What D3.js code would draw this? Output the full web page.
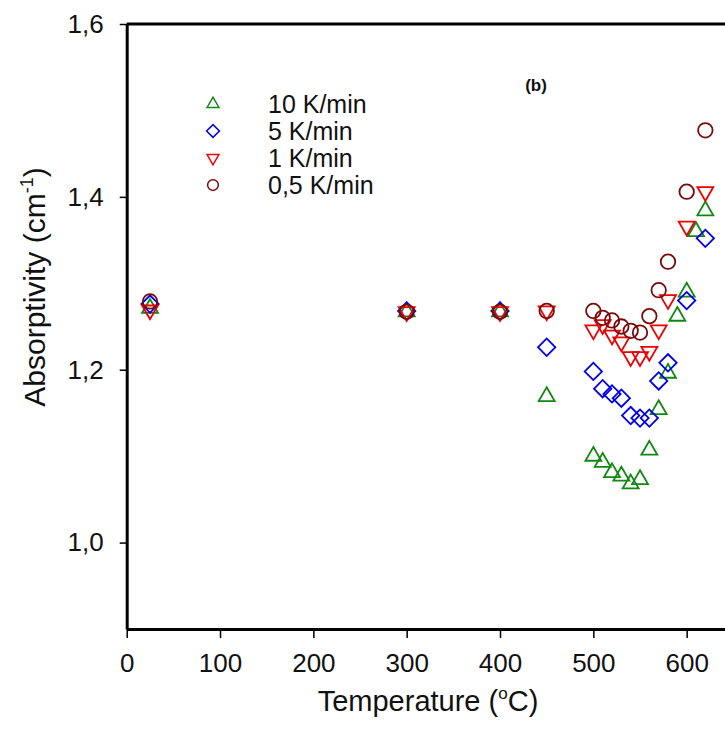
<!DOCTYPE html>
<html><head><meta charset="utf-8">
<script src="https://cdn.jsdelivr.net/npm/d3@7"></script>
<style>body{margin:0;background:#fff;} svg{display:block;} text{font-family:"Liberation Sans",Arial,sans-serif;}</style>
</head><body>
<svg id="chart" width="725" height="740"></svg>
<script>
const seriesNames = ["10 K/min", "5 K/min", "1 K/min", "0,5 K/min"];
const temps10 = [25,300,400,450,500,510,520,530,540,550,560,570,580,590,600,610,620];
const vals10  = [1.271,1.267,1.267,1.169,1.100,1.093,1.081,1.077,1.068,1.073,1.107,1.154,1.196,1.262,1.290,1.360,1.384];
const temps5  = [25,300,400,450,500,510,520,530,540,550,560,570,580,600,620];
const vals5   = [1.276,1.268,1.268,1.226,1.198,1.178,1.172,1.167,1.147,1.144,1.144,1.187,1.208,1.280,1.352];
const temps1  = [25,300,400,450,500,510,520,530,540,550,560,570,580,600,620];
const vals1   = [1.269,1.267,1.267,1.268,1.246,1.252,1.240,1.232,1.215,1.215,1.221,1.246,1.281,1.366,1.406];
const temps05 = [25,300,400,450,500,510,520,530,540,550,560,570,580,600,620];
const vals05  = [1.279,1.267,1.267,1.268,1.268,1.260,1.257,1.250,1.245,1.243,1.262,1.292,1.325,1.406,1.477];
const xTicks = [0,100,200,300,400,500,600];
const yTicks = [1.0,1.2,1.4,1.6];

const series = [
  {name: seriesNames[0], t: temps10, v: vals10, color: "#118811", shape: "up"},
  {name: seriesNames[1], t: temps5,  v: vals5,  color: "#0000ee", shape: "diamond"},
  {name: seriesNames[2], t: temps1,  v: vals1,  color: "#ee0000", shape: "down"},
  {name: seriesNames[3], t: temps05, v: vals05, color: "#7a0a0a", shape: "circle"}
];

const svg = d3.select("#chart");
const x = d3.scaleLinear().domain([0,700]).range([126.7, 126.7 + 700*0.9333]);
const y = d3.scaleLinear().domain([0.9,1.6]).range([629,24]);

const loc = d3.formatLocale({decimal:",", thousands:".", grouping:[3], currency:["",""]});
const fmt = loc.format(".1f");

const xAxis = svg.append("g").attr("transform","translate(0,629)")
  .call(d3.axisBottom(x).tickValues(xTicks).tickSize(9).tickPadding(16).tickSizeOuter(0));
const yAxis = svg.append("g").attr("transform","translate(126.7,0)")
  .call(d3.axisLeft(y).tickValues(yTicks).tickFormat(fmt).tickSize(7).tickPadding(16).tickSizeOuter(0));
[xAxis, yAxis].forEach(g => {
  g.select(".domain").attr("stroke","#000").attr("stroke-width",3);
  g.selectAll(".tick line").attr("stroke","#000").attr("stroke-width",1.5);
  g.selectAll(".tick text").attr("font-size",26).attr("fill","#111");
});
svg.append("line").attr("x1",x(0)).attr("x2",x(700)).attr("y1",y(1.6)).attr("y2",y(1.6))
  .attr("stroke","#000").attr("stroke-width",3);

const xt = svg.append("text").attr("x",428).attr("y",711).attr("text-anchor","middle").attr("font-size",29).attr("fill","#111");
xt.append("tspan").text("Temperature (");
xt.append("tspan").text("o").attr("font-size",17).attr("dy",-12);
xt.append("tspan").text("C)").attr("dy",12);

const yt = svg.append("text").attr("transform","translate(45,287) rotate(-90)").attr("text-anchor","middle").attr("font-size",30).attr("fill","#111");
yt.append("tspan").text("Absorptivity (cm");
yt.append("tspan").text("-1").attr("font-size",18).attr("dy",-12);
yt.append("tspan").text(")").attr("dy",12);

svg.append("text").attr("x",536).attr("y",91).attr("text-anchor","middle").attr("font-size",17).attr("font-weight","bold").attr("fill","#111").text("(b)");

function shapePath(shape, size) {
  if (shape === "circle") return d3.symbol(d3.symbolCircle, size)();
  if (shape === "diamond") return d3.symbol(d3.symbolSquare, size)();
  return d3.symbol(d3.symbolTriangle, size)();
}
function shapeRot(shape) {
  if (shape === "diamond") return 45;
  if (shape === "down") return 180;
  return 0;
}
const sizes = {up: 110, down: 110, diamond: 150, circle: 165};

const plot = svg.append("g");
series.forEach(s => {
  const pts = s.t.map((t,i) => ({t, v: s.v[i]}));
  plot.append("g").selectAll("path").data(pts).join("path")
    .attr("d", shapePath(s.shape, sizes[s.shape]))
    .attr("transform", d => `translate(${x(d.t)},${y(d.v)}) rotate(${shapeRot(s.shape)})`)
    .attr("fill","none").attr("stroke", s.color).attr("stroke-width",1.8);
});

const leg = svg.append("g");
series.forEach((s,i) => {
  const yy = 104 + i*27;
  leg.append("path").attr("d", shapePath(s.shape, sizes[s.shape]*0.55))
    .attr("transform", `translate(213,${yy}) rotate(${shapeRot(s.shape)})`)
    .attr("fill","none").attr("stroke", s.color).attr("stroke-width",1.5);
  leg.append("text").attr("x",268).attr("y",yy).attr("dy","0.36em").attr("font-size",25).attr("fill","#111").text(s.name);
});
</script>
</body></html>
